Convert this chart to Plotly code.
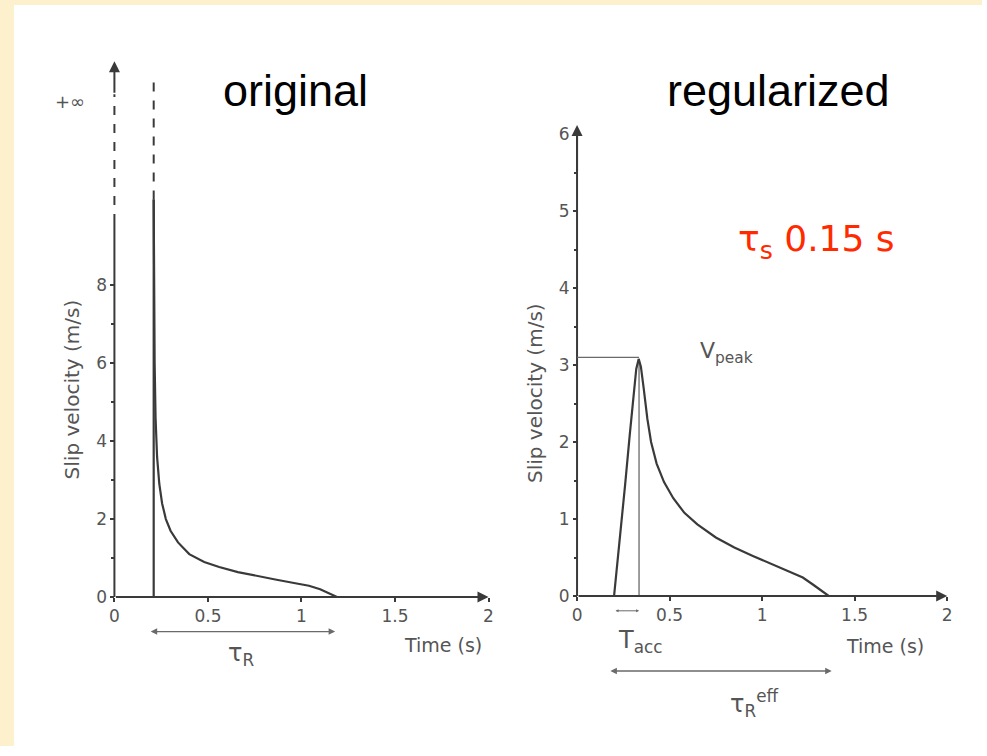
import plotly.graph_objects as go

W, H = 987, 756

# ---------------- data ----------------
# original (Yoffe-type) slip-velocity function
orig_onset_t = [0.21, 0.21]
orig_onset_solid_v = [0.0, 10.2]
orig_onset_dash_v = [10.2, 13.3]
orig_t = [0.21, 0.212, 0.215, 0.22, 0.228, 0.24, 0.255, 0.275, 0.30, 0.34, 0.40,
          0.48, 0.56, 0.66, 0.76, 0.86, 0.96, 1.04, 1.10, 1.15, 1.19]
orig_v = [10.2, 8.0, 6.0, 4.6, 3.6, 2.9, 2.4, 2.0, 1.7, 1.4, 1.1,
          0.9, 0.77, 0.64, 0.54, 0.45, 0.36, 0.29, 0.2, 0.1, 0.0]
orig_axis_solid_v = [0.0, 9.6]
orig_axis_dash_v = [9.6, 12.9]
orig_tau_r = [0.186, 1.18]

# regularized slip-velocity function
reg_t = [0.20, 0.23, 0.26, 0.285, 0.305, 0.32, 0.333, 0.345, 0.36, 0.38, 0.40, 0.43,
         0.47, 0.52, 0.58, 0.65, 0.75, 0.85, 0.95, 1.05, 1.15, 1.22, 1.28, 1.33, 1.36]
reg_v = [0.0, 0.7, 1.45, 2.1, 2.65, 2.95, 3.08, 2.98, 2.7, 2.3, 2.0, 1.72,
         1.48, 1.27, 1.08, 0.93, 0.76, 0.63, 0.52, 0.42, 0.32, 0.24, 0.14, 0.05, 0.0]
vpeak_t = 0.335
vpeak_v = 3.1
t_acc = [0.20, 0.335]
reg_tau_eff = [0.172, 1.376]

x_ticks = [0, 0.5, 1, 1.5, 2]
x_tick_text = ["0", "0.5", "1", "1.5", "2"]
orig_y_ticks = [0, 2, 4, 6, 8]
reg_y_ticks = [0, 1, 2, 3, 4, 5, 6]

# ---------------- layout helpers ----------------
def px(x):
    return x / W

def py(y):
    return 1 - y / H

LINE = "#3a3a3a"
THIN = "#6a6a6a"
TXT = "#555555"
FIG_FONT = "DejaVu Sans"

fig = go.Figure()

# ---- left panel ----
fig.add_trace(go.Scatter(x=[0, 0], y=orig_axis_solid_v, mode="lines",
                         line=dict(color=LINE, width=2), xaxis="x", yaxis="y"))
fig.add_trace(go.Scatter(x=[0, 0], y=orig_axis_dash_v, mode="lines",
                         line=dict(color=LINE, width=2, dash="dash"), xaxis="x", yaxis="y"))
fig.add_trace(go.Scatter(x=orig_onset_t, y=orig_onset_solid_v, mode="lines",
                         line=dict(color=LINE, width=2.2), xaxis="x", yaxis="y"))
fig.add_trace(go.Scatter(x=orig_onset_t, y=orig_onset_dash_v, mode="lines",
                         line=dict(color=LINE, width=2, dash="dash"), xaxis="x", yaxis="y"))
fig.add_trace(go.Scatter(x=orig_t, y=orig_v, mode="lines",
                         line=dict(color=LINE, width=2.2), xaxis="x", yaxis="y"))

# ---- right panel ----
fig.add_trace(go.Scatter(x=[0, 0], y=[0, 6.0], mode="lines",
                         line=dict(color=LINE, width=2), xaxis="x2", yaxis="y2"))
fig.add_trace(go.Scatter(x=[0, vpeak_t], y=[vpeak_v, vpeak_v], mode="lines",
                         line=dict(color=THIN, width=1.3), xaxis="x2", yaxis="y2"))
fig.add_trace(go.Scatter(x=[vpeak_t, vpeak_t], y=[0, vpeak_v - 0.05], mode="lines",
                         line=dict(color=THIN, width=1.3), xaxis="x2", yaxis="y2"))
fig.add_trace(go.Scatter(x=reg_t, y=reg_v, mode="lines",
                         line=dict(color=LINE, width=2.2), xaxis="x2", yaxis="y2"))

tickfont = dict(family=FIG_FONT, size=17, color=TXT)
common_x = dict(range=[-0.03, 2.0], showgrid=False, zeroline=False, showline=False,
                tickvals=x_ticks, ticktext=x_tick_text, ticks="outside", ticklen=4,
                tickwidth=1.5, tickcolor=LINE, tickfont=tickfont)

fig.update_layout(
    width=W, height=H,
    margin=dict(l=0, r=0, t=0, b=0),
    paper_bgcolor="white", plot_bgcolor="rgba(0,0,0,0)",
    showlegend=False,
    xaxis=dict(domain=[px(109.36), px(491)], anchor="y", **common_x),
    yaxis=dict(domain=[py(605), py(60)], range=[0, 13.8], anchor="free", position=px(115),
               showgrid=False, zeroline=False, showline=False,
               tickvals=orig_y_ticks, ticks="outside", ticklen=4, tickwidth=1.5,
               tickcolor=LINE, tickfont=tickfont,
               minor=dict(tickvals=[1, 3, 5, 7], ticks="outside", ticklen=3,
                          tickcolor=LINE)),
    xaxis2=dict(domain=[px(574.4), px(952)], anchor="y2", **common_x),
    yaxis2=dict(domain=[py(604), py(125)], range=[0, 6.14], anchor="free", position=px(580),
                showgrid=False, zeroline=False, showline=False,
                tickvals=reg_y_ticks, ticks="outside", ticklen=4, tickwidth=1.5,
                tickcolor=LINE, tickfont=tickfont,
                minor=dict(tickvals=[0.5, 1.5, 2.5, 3.5, 4.5, 5.5], ticks="outside",
                           ticklen=3, tickcolor=LINE)),
)

# slide background: beige border
fig.add_shape(type="rect", xref="paper", yref="paper", x0=0, x1=px(14), y0=0, y1=1,
              fillcolor="#FDF0CC", line_width=0, layer="below")
fig.add_shape(type="rect", xref="paper", yref="paper", x0=0, x1=1, y0=py(5), y1=1,
              fillcolor="#FDF0CC", line_width=0, layer="below")

ann = []
# axis arrows
ann.append(dict(xref="x", yref="y", axref="x", ayref="y", x=2.0, y=0, ax=0, ay=0,
                showarrow=True, arrowhead=2, arrowsize=1.1, arrowwidth=2,
                arrowcolor=LINE, text=""))
ann.append(dict(xref="x", yref="y", axref="x", ayref="y", x=0, y=13.75, ax=0, ay=12.9,
                showarrow=True, arrowhead=2, arrowsize=1.1, arrowwidth=2,
                arrowcolor=LINE, text=""))
ann.append(dict(xref="x2", yref="y2", axref="x2", ayref="y2", x=2.0, y=0, ax=0, ay=0,
                showarrow=True, arrowhead=2, arrowsize=1.1, arrowwidth=2,
                arrowcolor=LINE, text=""))
ann.append(dict(xref="x2", yref="y2", axref="x2", ayref="y2", x=0, y=6.12, ax=0, ay=5.5,
                showarrow=True, arrowhead=2, arrowsize=1.1, arrowwidth=2,
                arrowcolor=LINE, text=""))
# duration arrows (data x, paper y)
ann.append(dict(xref="x", yref="paper", axref="x", ayref="pixel",
                x=orig_tau_r[1], y=py(640), ax=orig_tau_r[0], ay=0,
                showarrow=True, arrowhead=2, arrowside="end+start", arrowsize=1,
                arrowwidth=1.3, arrowcolor=THIN, text=""))
ann.append(dict(xref="x2", yref="paper", axref="x2", ayref="pixel",
                x=reg_tau_eff[1], y=py(680), ax=reg_tau_eff[0], ay=0,
                showarrow=True, arrowhead=2, arrowside="end+start", arrowsize=1,
                arrowwidth=1.3, arrowcolor=THIN, text=""))
ann.append(dict(xref="x2", yref="paper", axref="x2", ayref="pixel",
                x=t_acc[1], y=py(619), ax=t_acc[0], ay=0,
                showarrow=True, arrowhead=2, arrowside="end+start", arrowsize=0.6,
                arrowwidth=1, arrowcolor=THIN, text=""))

def label(text, x, y, size, color=TXT, family=FIG_FONT, angle=0, xanchor="center"):
    ann.append(dict(xref="paper", yref="paper", x=px(x), y=py(y), text=text,
                    showarrow=False, xanchor=xanchor, yanchor="middle",
                    textangle=angle, font=dict(family=family, size=size, color=color)))

# titles
label("original", 297, 92, 45, color="black", family="Liberation Sans")
label("regularized", 782, 92, 45, color="black", family="Liberation Sans")
label("τ<sub>s</sub> 0.15 s", 821, 245, 36, color="#FF2A00", family="DejaVu Sans")

# scanned-figure labels
label("+∞", 70, 103, 18)
label("Slip velocity (m/s)", 72, 395, 20, angle=-90)
label("Slip velocity (m/s)", 537, 398, 20, angle=-90)
label("Time (s)", 445, 654, 19)
label("Time (s)", 890, 655, 19)
label("τ<sub>R</sub>", 242, 663, 24)
label("T<sub>acc</sub>", 643, 650, 24)
label("τ<sub>R</sub><sup>eff</sup>", 758, 713, 24)
label("V<sub>peak</sub>", 730, 357, 22)

fig.update_layout(annotations=ann)
fig.write_html("out.html")
